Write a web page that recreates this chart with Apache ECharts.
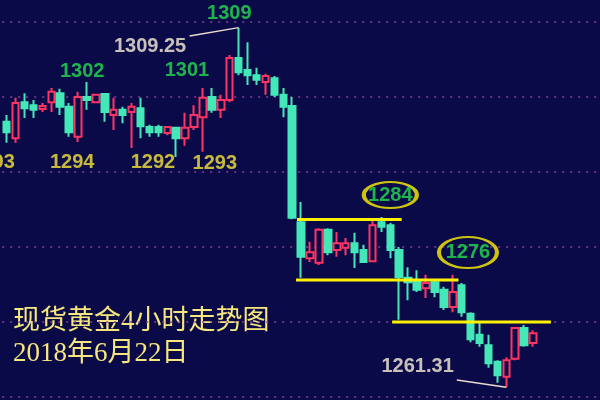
<!DOCTYPE html>
<html><head><meta charset="utf-8">
<script src="https://cdn.jsdelivr.net/npm/echarts@6/dist/echarts.min.js"></script>
<style>html,body{margin:0;padding:0;background:#0a0a48}#c{width:600px;height:400px}</style>
</head><body><div id="c"></div>
<script>
// ---- data ----
const candleCount = 60;
const emptySlots = 7;
const opens  = [1296.7,1294.5,1299.3,1298.9,1298.4,1299.3,1300.5,1298.7,1294.7,1300.0,
                1299.3,1300.4,1297.6,1298.3,1298.0,1298.5,1296.0,1296.0,1295.2,1295.9,
                1294.5,1296.0,1297.3,1300.0,1298.3,1299.6,1305.2,1303.6,1302.9,1302.0,
                1302.5,1300.3,1298.8,1283.3,1278.5,1277.9,1282.3,1279.6,1279.9,1280.5,
                1279.6,1278.1,1283.3,1282.9,1279.6,1275.9,1275.6,1274.5,1275.3,1274.3,
                1272.0,1274.9,1271.1,1268.3,1266.9,1264.7,1262.7,1265.1,1269.2,1267.2];
const closes = [1295.3,1299.2,1298.5,1298.3,1298.8,1300.7,1298.7,1295.3,1300.0,1299.6,
                1300.3,1298.0,1298.3,1297.6,1298.7,1296.1,1295.3,1295.3,1296.0,1294.5,
                1295.9,1297.6,1299.9,1298.3,1299.6,1305.2,1303.3,1302.9,1302.3,1302.8,
                1300.3,1298.7,1283.9,1278.7,1279.3,1282.3,1279.3,1280.5,1280.5,1279.3,
                1278.0,1282.9,1282.7,1279.6,1276.0,1275.3,1274.3,1275.2,1274.0,1272.0,
                1274.0,1271.3,1267.7,1267.2,1264.5,1262.9,1264.9,1269.2,1266.9,1268.5];
const lows   = [1293.9,1293.9,1297.2,1297.2,1298.0,1298.0,1297.6,1294.7,1294.0,1298.3,
                1299.2,1296.7,1295.6,1296.5,1293.2,1294.5,1294.7,1294.7,1294.9,1292.0,
                1293.5,1295.6,1292.7,1297.9,1297.2,1299.3,1302.9,1301.6,1301.6,1300.3,
                1300.0,1297.3,1283.7,1275.9,1278.0,1277.6,1278.9,1278.7,1278.9,1277.2,
                1277.9,1278.0,1282.0,1278.5,1270.3,1272.9,1274.0,1273.2,1273.3,1271.6,
                1271.3,1270.7,1267.3,1266.7,1263.9,1261.9,1261.31,1264.9,1266.7,1266.7];
const highs  = [1297.6,1299.9,1300.5,1299.6,1299.2,1301.2,1301.1,1299.2,1300.7,1302.0,
                1300.4,1300.5,1299.9,1298.7,1299.2,1299.9,1296.3,1296.3,1296.0,1296.0,
                1297.9,1298.9,1301.2,1301.2,1300.3,1305.6,1309.25,1307.3,1303.9,1303.1,
                1302.8,1301.2,1300.0,1286.0,1280.7,1282.5,1282.5,1282.0,1281.2,1281.9,
                1280.3,1283.6,1284.0,1283.2,1280.0,1277.3,1276.9,1276.3,1275.6,1274.7,
                1276.3,1275.2,1271.3,1269.9,1268.3,1264.9,1265.3,1269.3,1269.6,1268.9];
const priceTicks = [1260, 1270, 1280, 1290, 1300, 1310];

// annotation texts and anchors (bar index, price)
const highLabels  = ['1302', '1301', '1309'];
const highAnchors = [[8.47, 1303.37], [20.2, 1303.6], [24.95, 1311.13]];
const lowLabels   = ['1293', '1294', '1292', '1293'];
const lowAnchors  = [[-1.58, 1291.33], [7.35, 1291.33], [16.4, 1291.33], [23.33, 1291.13]];
const extremeLabels  = ['1309.25', '1261.31'];
const extremeAnchors = [[16.07, 1306.67], [46.06, 1264.07]];
const circledLabels  = ['1284', '1276'];
const circledAnchors = [[43.0, 1286.93], [51.7, 1279.27]];
const pointerLines = [
  [[20.5, 1308.13], [26, 1309.25]],
  [[50.45, 1262.27], [56, 1261.31]]
];
const levelLines = [ // [startIndex, endIndex, price]
  [32.54, 44.27, 1283.67],
  [32.43, 50.64, 1275.6],
  [43.2, 61.0, 1270.0]
];
const titleLines = ['现货黄金4小时走势图', '2018年6月22日'];

// ---- build ----
const categories = [];
for (let i = 0; i < candleCount + emptySlots; i++) categories.push('K' + (i + 1));
const candleData = opens.map((o, i) => [o, closes[i], lows[i], highs[i]]);

const BG = '#0a0a48';
const RED = '#ff3462';
const TEAL = '#44e8b8';
const YELLOW = '#fff200';
const GREEN = '#22e04c';
const GOLD = '#f6e43c';
const CREAM = '#f7eed6';

function textPoints(labels, anchors, color) {
  return labels.map((t, i) => ({
    value: anchors[i],
    label: { show: true, position: 'inside', formatter: t, color: color,
             fontSize: 20, fontWeight: 'bold', fontFamily: 'Liberation Sans, Arial, sans-serif' }
  }));
}

const series = [{
  type: 'candlestick',
  xAxisIndex: 0, yAxisIndex: 0,
  data: candleData,
  barWidth: 7,
  itemStyle: { color: BG, color0: TEAL, borderColor: RED, borderColor0: TEAL, borderWidth: 2 }
}];

levelLines.forEach(l => series.push({
  type: 'line', xAxisIndex: 1, yAxisIndex: 0, symbol: 'none',
  data: [[l[0], l[2]], [l[1], l[2]]],
  lineStyle: { color: YELLOW, width: 3 }, silent: true
}));
pointerLines.forEach(p => series.push({
  type: 'line', xAxisIndex: 1, yAxisIndex: 0, symbol: 'none',
  data: p, lineStyle: { color: '#e8dcd0', width: 1.5 }, silent: true
}));

series.push({
  type: 'scatter', xAxisIndex: 1, yAxisIndex: 0, clip: false,
  symbol: 'circle',
  symbolSize: (v, p) => p.dataIndex === 0 ? [53, 26] : [58, 31],
  itemStyle: { color: 'rgba(0,0,0,0)', borderColor: YELLOW, borderWidth: 3 },
  data: circledAnchors, silent: true, z: 5
});
series.push({
  type: 'scatter', xAxisIndex: 1, yAxisIndex: 0, clip: false,
  symbolSize: 1, itemStyle: { color: 'rgba(0,0,0,0)' }, silent: true, z: 6,
  data: [].concat(
    textPoints(highLabels, highAnchors, GREEN),
    textPoints(lowLabels, lowAnchors, GOLD),
    textPoints(extremeLabels, extremeAnchors, CREAM),
    textPoints(circledLabels, circledAnchors, GREEN)
  )
});

const chart = echarts.init(document.getElementById('c'));
chart.setOption({
  animation: false,
  backgroundColor: BG,
  grid: { left: 2.2, top: 22, width: 599.8, bottom: 3 },
  xAxis: [
    { type: 'category', data: categories, boundaryGap: true, show: false },
    { type: 'value', min: -0.5, max: candleCount + emptySlots - 0.5, show: false }
  ],
  yAxis: {
    type: 'value', min: priceTicks[0], max: priceTicks[priceTicks.length - 1], interval: 10,
    axisLine: { show: false }, axisTick: { show: false }, axisLabel: { show: false },
    splitLine: { show: true, lineStyle: { color: '#8a3f96', type: [2, 6], width: 1.5 } }
  },
  graphic: titleLines.map((t, i) => ({
    type: 'text', left: 13, top: 308 + i * 32,
    style: { text: t, fill: '#f6e67e', fontSize: 27,
             fontFamily: 'Liberation Serif, "Noto Sans CJK SC", serif' }
  })),
  series: series
});
</script></body></html>
